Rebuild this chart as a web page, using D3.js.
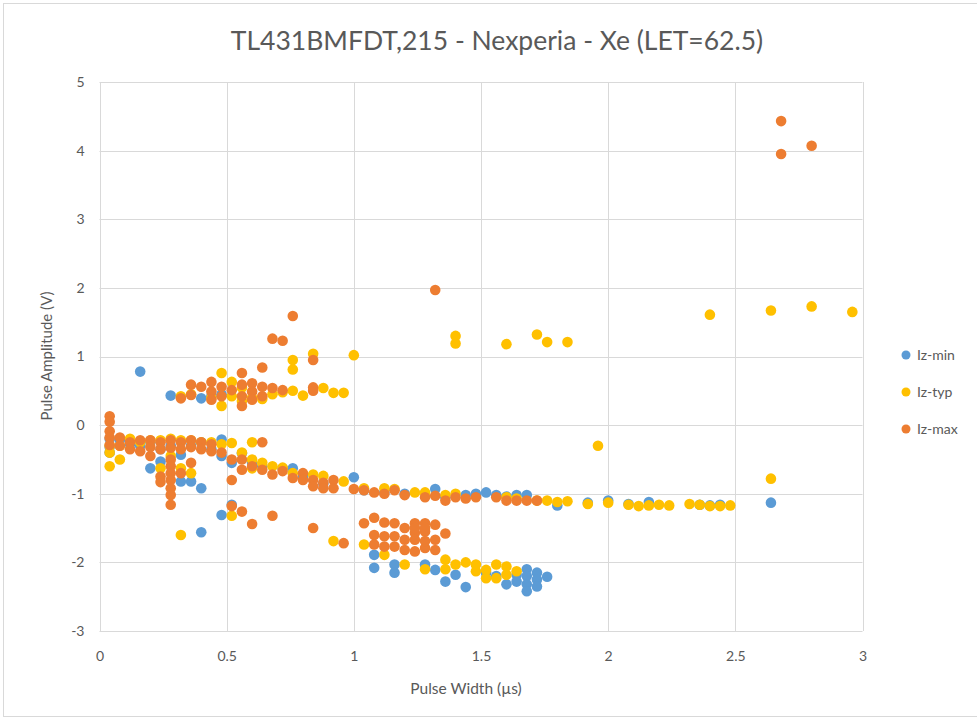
<!DOCTYPE html>
<html><head><meta charset="utf-8">
<script src="https://cdn.jsdelivr.net/npm/d3@7"></script>
<style>body{margin:0;background:#fff;}svg{display:block;}</style>
</head><body>
<svg id="chart" width="977" height="721"></svg>
<script>
const title = "TL431BMFDT,215 - Nexperia - Xe (LET=62.5)";
const xTitle = "Pulse Width (µs)";
const yTitle = "Pulse Amplitude (V)";
const xTicks = [0, 0.5, 1, 1.5, 2, 2.5, 3];
const yTicks = [-3, -2, -1, 0, 1, 2, 3, 4, 5];
const seriesNames = ["Iz-min", "Iz-typ", "Iz-max"];
const seriesColors = ["#5B9BD5", "#FFC000", "#ED7D31"];

const izMin = [
 [0.16,0.78],[0.28,0.43],[0.40,0.39],[0.44,0.42],[0.48,0.45],
 [0.04,-0.20],[0.04,-0.32],[0.04,-0.40],[0.08,-0.22],[0.12,-0.28],[0.16,-0.30],[0.20,-0.25],[0.20,-0.63],[0.24,-0.53],[0.24,-0.35],
 [0.28,-0.30],[0.32,-0.43],[0.32,-0.82],[0.36,-0.82],[0.36,-0.30],[0.40,-0.92],[0.40,-0.25],[0.44,-0.35],[0.48,-0.21],[0.48,-0.45],
 [0.52,-0.55],[0.56,-0.41],[0.60,-0.55],[0.64,-0.60],[0.72,-0.63],[0.76,-0.63],[0.80,-0.75],[0.88,-0.85],[1.00,-0.76],[1.04,-0.95],
 [1.12,-0.98],[1.20,-1.00],[1.32,-0.93],[1.36,-1.05],[1.44,-1.02],[1.48,-1.00],[1.52,-0.98],[1.56,-1.02],[1.60,-1.04],[1.64,-1.02],
 [1.68,-1.02],[1.80,-1.17],[1.92,-1.13],[2.00,-1.10],[2.08,-1.15],[2.16,-1.12],[2.36,-1.16],[2.40,-1.17],[2.44,-1.16],[2.64,-1.13],
 [0.40,-1.56],[0.48,-1.31],[0.52,-1.16],
 [1.08,-1.89],[1.08,-2.08],[1.16,-2.03],[1.16,-2.15],[1.28,-2.03],[1.32,-2.11],[1.36,-2.28],[1.40,-2.18],[1.44,-2.36],[1.52,-2.15],
 [1.56,-2.20],[1.60,-2.32],[1.64,-2.18],[1.64,-2.28],[1.68,-2.10],[1.68,-2.20],[1.68,-2.32],[1.68,-2.42],[1.72,-2.15],[1.72,-2.25],
 [1.72,-2.35],[1.76,-2.21]
];

const izTyp = [
 [0.32,0.42],[0.36,0.45],[0.44,0.40],[0.48,0.76],[0.48,0.28],[0.52,0.63],[0.52,0.42],[0.56,0.35],[0.56,0.55],[0.60,0.40],
 [0.64,0.38],[0.68,0.45],[0.72,0.48],[0.76,0.95],[0.76,0.81],[0.76,0.50],[0.80,0.43],[0.84,1.04],[0.88,0.54],[0.92,0.47],
 [0.96,0.47],[1.00,1.02],[1.40,1.30],[1.40,1.19],[1.60,1.18],[1.72,1.32],[1.76,1.21],[1.84,1.21],[2.40,1.61],[2.64,1.67],
 [2.80,1.73],[2.96,1.65],
 [0.04,-0.60],[0.04,-0.40],[0.04,-0.30],[0.08,-0.50],[0.08,-0.30],[0.12,-0.20],[0.16,-0.25],[0.20,-0.22],[0.24,-0.22],[0.24,-0.63],
 [0.28,-0.20],[0.28,-0.45],[0.32,-0.63],[0.32,-0.22],[0.36,-0.70],[0.36,-0.22],[0.40,-0.25],[0.44,-0.25],[0.48,-0.28],[0.52,-0.26],
 [0.56,-0.40],[0.60,-0.25],[0.60,-0.50],[0.60,-0.63],[0.64,-0.55],[0.68,-0.60],[0.72,-0.62],[0.76,-0.70],[0.84,-0.72],[0.88,-0.74],
 [0.96,-0.82],[1.04,-0.92],[1.12,-0.92],[1.16,-0.93],[1.24,-0.98],[1.28,-0.98],[1.36,-1.02],[1.40,-1.00],[1.60,-1.05],[1.64,-1.07],
 [1.72,-1.10],[1.76,-1.10],[1.80,-1.12],[1.84,-1.11],[1.92,-1.15],[2.00,-1.13],[2.08,-1.16],[2.12,-1.18],[2.16,-1.17],[2.20,-1.16],
 [2.24,-1.17],[2.32,-1.15],[2.36,-1.16],[2.40,-1.18],[2.44,-1.18],[2.48,-1.17],[1.96,-0.30],[2.64,-0.78],
 [0.32,-1.60],[0.52,-1.32],[0.92,-1.69],[1.04,-1.74],
 [1.12,-1.89],[1.20,-2.03],[1.28,-2.10],[1.36,-1.96],[1.36,-2.10],[1.40,-2.03],[1.44,-2.00],[1.48,-2.03],[1.48,-2.13],[1.52,-2.11],
 [1.52,-2.23],[1.56,-2.03],[1.56,-2.23],[1.60,-2.06],[1.60,-2.18],[1.64,-2.13]
];

const izMax = [
 [2.68,4.43],[2.68,3.95],[2.80,4.07],[1.32,1.97],[0.76,1.59],[0.68,1.26],[0.72,1.23],[0.64,0.84],[0.56,0.76],[0.84,0.95],
 [0.84,0.55],[0.84,0.50],
 [0.32,0.39],[0.36,0.59],[0.36,0.44],[0.40,0.56],[0.44,0.63],[0.44,0.49],[0.44,0.37],[0.48,0.56],[0.48,0.42],[0.52,0.51],
 [0.56,0.59],[0.56,0.42],[0.56,0.28],[0.60,0.61],[0.60,0.49],[0.60,0.37],[0.64,0.56],[0.64,0.42],[0.68,0.54],[0.72,0.51],
 [0.04,0.13],[0.04,0.05],[0.04,-0.09],[0.04,-0.18],[0.04,-0.29],[0.08,-0.18],[0.08,-0.30],[0.12,-0.25],[0.12,-0.35],[0.16,-0.22],
 [0.16,-0.38],[0.20,-0.22],[0.20,-0.32],[0.20,-0.45],[0.24,-0.25],[0.24,-0.35],[0.24,-0.75],[0.24,-0.83],[0.28,-0.22],[0.28,-0.33],
 [0.28,-0.50],[0.28,-0.60],[0.28,-0.70],[0.28,-0.80],[0.28,-0.92],[0.28,-1.02],[0.28,-1.16],[0.32,-0.25],[0.32,-0.35],[0.32,-0.70],
 [0.36,-0.22],[0.36,-0.32],[0.36,-0.55],[0.40,-0.25],[0.40,-0.35],[0.44,-0.28],[0.44,-0.38],[0.48,-0.40],[0.52,-0.50],[0.52,-0.80],
 [0.56,-0.50],[0.56,-0.65],[0.60,-0.60],[0.64,-0.25],[0.64,-0.65],[0.68,-0.72],[0.72,-0.67],[0.76,-0.77],[0.80,-0.70],[0.80,-0.80],
 [0.84,-0.80],[0.84,-0.89],[0.88,-0.84],[0.88,-0.92],[0.92,-0.80],[0.92,-0.92],[1.00,-0.93],[1.04,-0.95],[1.08,-0.98],[1.12,-1.00],
 [1.16,-0.95],[1.20,-1.02],[1.28,-1.05],[1.32,-1.03],[1.36,-1.10],[1.40,-1.05],[1.44,-1.07],[1.48,-1.05],[1.56,-1.05],[1.60,-1.10],
 [1.64,-1.10],[1.68,-1.10],[1.72,-1.10],
 [0.52,-1.18],[0.56,-1.26],[0.60,-1.44],[0.68,-1.32],[0.84,-1.50],[0.96,-1.72],
 [1.04,-1.43],[1.08,-1.35],[1.12,-1.42],[1.16,-1.43],[1.20,-1.50],[1.24,-1.43],[1.28,-1.43],[1.32,-1.45],[1.36,-1.58],[1.08,-1.60],
 [1.12,-1.62],[1.16,-1.62],[1.20,-1.67],[1.24,-1.57],[1.28,-1.55],[1.32,-1.67],[1.08,-1.74],[1.12,-1.77],[1.16,-1.77],[1.20,-1.82],
 [1.24,-1.84],[1.28,-1.79],[1.32,-1.82],[1.24,-1.67],[1.28,-1.69],[1.24,-1.50],[1.28,-1.50]
];

const seriesData = [izMin, izTyp, izMax];

const svg = d3.select("#chart");
const font = "Lato, 'Open Sans', sans-serif";
const textColor = "#595959";
const plot = {left: 99.5, right: 862.5, top: 82, bottom: 631};

svg.append("rect").attr("x", 3.5).attr("y", 3.5).attr("width", 990).attr("height", 713)
  .attr("fill", "#fff").attr("stroke", "#D9D9D9").attr("stroke-width", 1);

const x = d3.scaleLinear().domain([0, 3]).range([plot.left, plot.right]);
const y = d3.scaleLinear().domain([-3, 5]).range([plot.bottom, plot.top]);

// gridlines
const grid = svg.append("g");
grid.selectAll(".vg").data(xTicks).join("line")
  .attr("x1", d => Math.round(x(d)) + 0.5).attr("x2", d => Math.round(x(d)) + 0.5)
  .attr("y1", plot.top).attr("y2", plot.bottom)
  .attr("stroke", "#D9D9D9").attr("stroke-width", 1);
grid.selectAll(".hg").data(yTicks).join("line")
  .attr("y1", d => Math.round(y(d)) + 0.5).attr("y2", d => Math.round(y(d)) + 0.5)
  .attr("x1", plot.left).attr("x2", plot.right)
  .attr("stroke", "#D9D9D9").attr("stroke-width", 1);

// axes (labels only)
const fmt = d => String(d);
const xAxis = svg.append("g").attr("transform", `translate(0,${plot.bottom + 17})`)
  .call(d3.axisBottom(x).tickValues(xTicks).tickSize(0).tickFormat(fmt));
const yAxis = svg.append("g").attr("transform", `translate(${plot.left - 12},0)`)
  .call(d3.axisLeft(y).tickValues(yTicks).tickSize(0).tickFormat(fmt));
[xAxis, yAxis].forEach(a => {
  a.select(".domain").remove();
  a.selectAll("text").attr("fill", textColor).style("font-family", font).style("font-size", "14px");
});

// points
seriesData.forEach((data, i) => {
  svg.append("g").selectAll("circle").data(data).join("circle")
    .attr("cx", d => x(d[0])).attr("cy", d => y(d[1])).attr("r", 5.3)
    .attr("fill", seriesColors[i]);
});

// title
svg.append("text").attr("x", 497).attr("y", 50).attr("text-anchor", "middle")
  .attr("fill", textColor).style("font-family", font).style("font-size", "26.5px").text(title);

svg.append("text").attr("x", 466).attr("y", 694).attr("text-anchor", "middle")
  .attr("fill", textColor).style("font-family", font).style("font-size", "15.5px").text(xTitle);

svg.append("text").attr("transform", "translate(52,356) rotate(-90)").attr("text-anchor", "middle")
  .attr("fill", textColor).style("font-family", font).style("font-size", "15px").text(yTitle);

// legend
const legend = svg.append("g");
seriesNames.forEach((name, i) => {
  const ly = 355 + i * 37;
  legend.append("circle").attr("cx", 906).attr("cy", ly).attr("r", 4.5).attr("fill", seriesColors[i]);
  legend.append("text").attr("x", 917).attr("y", ly + 5).attr("fill", textColor)
    .style("font-family", font).style("font-size", "14px").text(name);
});
</script>
</body></html>
